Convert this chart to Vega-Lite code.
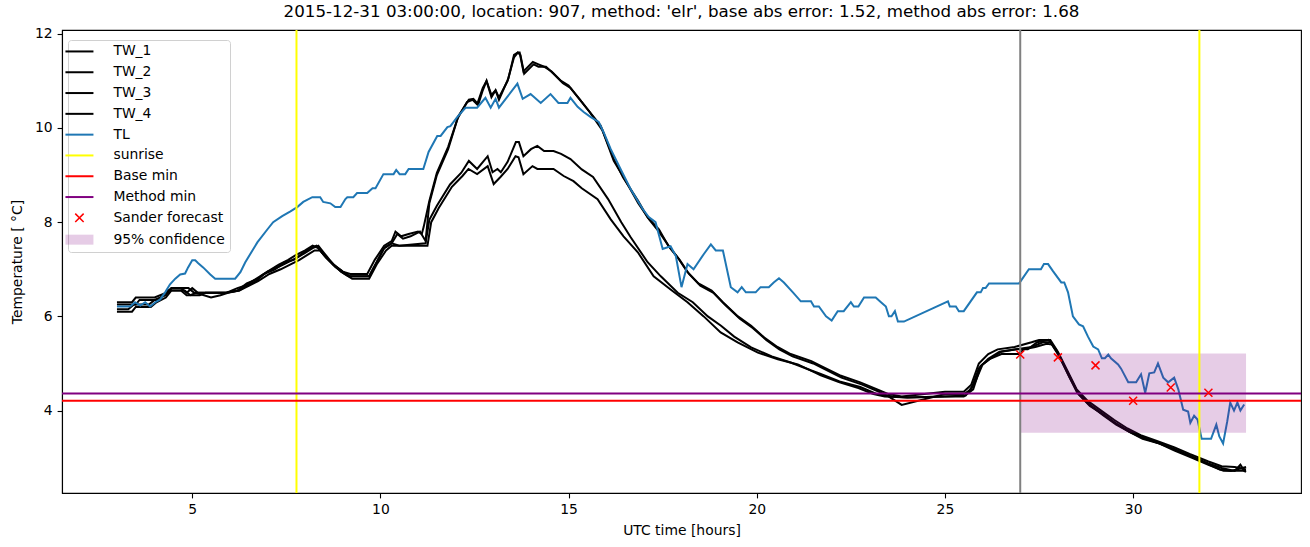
{
"$schema": "https://vega.github.io/schema/vega-lite/v6.json",
"width": 1239, "height": 463,
"autosize": {"type": "none"},
"padding": {"left": 62, "top": 30, "right": 9, "bottom": 54},
"config": {
  "font": "DejaVu Sans",
  "view": {"stroke": "#000000", "strokeWidth": 1.1},
  "axis": {"grid": false, "domainColor": "#000000", "domainWidth": 1.1, "tickColor": "#000000", "tickWidth": 1.1, "tickSize": 4.9, "labelPadding": 4.9, "labelFontSize": 13.9, "labelColor": "#000000", "titleFontSize": 13.9, "titleFontWeight": "normal", "titleColor": "#000000", "labelFont": "DejaVu Sans", "titleFont": "DejaVu Sans"},
  "legend": {"symbolType": "stroke"}
},
"title": {"text": "2015-12-31 03:00:00, location: 907, method: 'elr', base abs error: 1.52, method abs error: 1.68", "fontSize": 16.7, "fontWeight": "normal", "font": "DejaVu Sans", "color": "#000000", "offset": 6, "anchor": "middle"},
"datasets": {
  "lines": [
{"s":"TW_1","h":3.0,"t":6.3},{"s":"TW_1","h":3.4,"t":6.3},{"s":"TW_1","h":3.5,"t":6.4},{"s":"TW_1","h":4.0,"t":6.4},{"s":"TW_1","h":4.3,"t":6.5},{"s":"TW_1","h":4.45,"t":6.6},{"s":"TW_1","h":4.7,"t":6.6},{"s":"TW_1","h":4.85,"t":6.5},{"s":"TW_1","h":5.0,"t":6.6},{"s":"TW_1","h":5.15,"t":6.5},{"s":"TW_1","h":5.9,"t":6.5},{"s":"TW_1","h":6.2,"t":6.6},{"s":"TW_1","h":6.4,"t":6.65},{"s":"TW_1","h":6.6,"t":6.75},{"s":"TW_1","h":6.8,"t":6.85},{"s":"TW_1","h":7.0,"t":6.95},{"s":"TW_1","h":7.3,"t":7.1},{"s":"TW_1","h":7.55,"t":7.2},{"s":"TW_1","h":7.75,"t":7.3},{"s":"TW_1","h":8.0,"t":7.4},{"s":"TW_1","h":8.2,"t":7.5},{"s":"TW_1","h":8.35,"t":7.45},{"s":"TW_1","h":8.5,"t":7.3},{"s":"TW_1","h":8.75,"t":7.1},{"s":"TW_1","h":9.0,"t":6.95},{"s":"TW_1","h":9.2,"t":6.9},{"s":"TW_1","h":9.65,"t":6.9},{"s":"TW_1","h":9.85,"t":7.2},{"s":"TW_1","h":10.1,"t":7.5},{"s":"TW_1","h":10.3,"t":7.6},{"s":"TW_1","h":10.4,"t":7.8},{"s":"TW_1","h":10.55,"t":7.7},{"s":"TW_1","h":10.75,"t":7.75},{"s":"TW_1","h":11.0,"t":7.8},{"s":"TW_1","h":11.1,"t":7.75},{"s":"TW_1","h":11.15,"t":7.9},{"s":"TW_1","h":11.3,"t":8.45},{"s":"TW_1","h":11.5,"t":9.05},{"s":"TW_1","h":11.8,"t":9.6},{"s":"TW_1","h":12.05,"t":10.2},{"s":"TW_1","h":12.3,"t":10.55},{"s":"TW_1","h":12.45,"t":10.6},{"s":"TW_1","h":12.57,"t":10.5},{"s":"TW_1","h":12.72,"t":10.85},{"s":"TW_1","h":12.82,"t":11.0},{"s":"TW_1","h":12.95,"t":10.7},{"s":"TW_1","h":13.06,"t":10.8},{"s":"TW_1","h":13.15,"t":10.65},{"s":"TW_1","h":13.38,"t":11.0},{"s":"TW_1","h":13.55,"t":11.5},{"s":"TW_1","h":13.65,"t":11.6},{"s":"TW_1","h":13.7,"t":11.6},{"s":"TW_1","h":13.8,"t":11.2},{"s":"TW_1","h":14.05,"t":11.4},{"s":"TW_1","h":14.2,"t":11.35},{"s":"TW_1","h":14.35,"t":11.3},{"s":"TW_1","h":14.55,"t":11.2},{"s":"TW_1","h":14.8,"t":11.0},{"s":"TW_1","h":15.0,"t":10.9},{"s":"TW_1","h":15.3,"t":10.6},{"s":"TW_1","h":15.5,"t":10.4},{"s":"TW_1","h":15.85,"t":10.05},{"s":"TW_1","h":16.2,"t":9.35},{"s":"TW_1","h":16.45,"t":8.95},{"s":"TW_1","h":16.85,"t":8.45},{"s":"TW_1","h":17.1,"t":8.1},{"s":"TW_1","h":17.4,"t":7.85},{"s":"TW_1","h":17.65,"t":7.5},{"s":"TW_1","h":17.9,"t":7.25},{"s":"TW_1","h":18.15,"t":6.95},{"s":"TW_1","h":18.45,"t":6.7},{"s":"TW_1","h":18.8,"t":6.55},{"s":"TW_1","h":19.1,"t":6.3},{"s":"TW_1","h":19.5,"t":6.0},{"s":"TW_1","h":19.85,"t":5.8},{"s":"TW_1","h":20.2,"t":5.55},{"s":"TW_1","h":20.55,"t":5.35},{"s":"TW_1","h":20.9,"t":5.2},{"s":"TW_1","h":21.45,"t":5.05},{"s":"TW_1","h":21.7,"t":4.95},{"s":"TW_1","h":22.2,"t":4.75},{"s":"TW_1","h":22.75,"t":4.6},{"s":"TW_1","h":23.2,"t":4.45},{"s":"TW_1","h":23.5,"t":4.35},{"s":"TW_1","h":23.85,"t":4.3},{"s":"TW_1","h":25.0,"t":4.4},{"s":"TW_1","h":25.5,"t":4.4},{"s":"TW_1","h":25.7,"t":4.55},{"s":"TW_1","h":25.9,"t":5.0},{"s":"TW_1","h":26.15,"t":5.2},{"s":"TW_1","h":26.4,"t":5.3},{"s":"TW_1","h":26.85,"t":5.35},{"s":"TW_1","h":27.3,"t":5.45},{"s":"TW_1","h":27.5,"t":5.5},{"s":"TW_1","h":27.8,"t":5.5},{"s":"TW_1","h":28.0,"t":5.25},{"s":"TW_1","h":28.25,"t":4.85},{"s":"TW_1","h":28.5,"t":4.45},{"s":"TW_1","h":28.8,"t":4.2},{"s":"TW_1","h":29.15,"t":4.0},{"s":"TW_1","h":29.5,"t":3.8},{"s":"TW_1","h":29.85,"t":3.62},{"s":"TW_1","h":30.2,"t":3.48},{"s":"TW_1","h":30.65,"t":3.35},{"s":"TW_1","h":31.1,"t":3.22},{"s":"TW_1","h":31.5,"t":3.08},{"s":"TW_1","h":32.0,"t":2.92},{"s":"TW_1","h":32.35,"t":2.82},{"s":"TW_1","h":32.7,"t":2.8},{"s":"TW_1","h":33.0,"t":2.75},
{"s":"TW_2","h":3.0,"t":6.25},{"s":"TW_2","h":3.5,"t":6.25},{"s":"TW_2","h":3.6,"t":6.35},{"s":"TW_2","h":4.1,"t":6.35},{"s":"TW_2","h":4.35,"t":6.55},{"s":"TW_2","h":4.7,"t":6.55},{"s":"TW_2","h":4.85,"t":6.45},{"s":"TW_2","h":5.2,"t":6.45},{"s":"TW_2","h":5.35,"t":6.5},{"s":"TW_2","h":5.9,"t":6.5},{"s":"TW_2","h":6.25,"t":6.55},{"s":"TW_2","h":6.45,"t":6.65},{"s":"TW_2","h":6.7,"t":6.75},{"s":"TW_2","h":6.9,"t":6.9},{"s":"TW_2","h":7.2,"t":7.0},{"s":"TW_2","h":7.45,"t":7.15},{"s":"TW_2","h":7.7,"t":7.2},{"s":"TW_2","h":7.95,"t":7.35},{"s":"TW_2","h":8.15,"t":7.45},{"s":"TW_2","h":8.3,"t":7.5},{"s":"TW_2","h":8.45,"t":7.35},{"s":"TW_2","h":8.7,"t":7.15},{"s":"TW_2","h":8.95,"t":6.95},{"s":"TW_2","h":9.15,"t":6.85},{"s":"TW_2","h":9.7,"t":6.85},{"s":"TW_2","h":9.9,"t":7.15},{"s":"TW_2","h":10.1,"t":7.45},{"s":"TW_2","h":10.3,"t":7.55},{"s":"TW_2","h":10.45,"t":7.75},{"s":"TW_2","h":10.6,"t":7.65},{"s":"TW_2","h":10.8,"t":7.7},{"s":"TW_2","h":11.05,"t":7.8},{"s":"TW_2","h":11.2,"t":7.6},{"s":"TW_2","h":11.3,"t":8.4},{"s":"TW_2","h":11.5,"t":9.0},{"s":"TW_2","h":11.8,"t":9.55},{"s":"TW_2","h":12.07,"t":10.25},{"s":"TW_2","h":12.35,"t":10.6},{"s":"TW_2","h":12.47,"t":10.62},{"s":"TW_2","h":12.6,"t":10.5},{"s":"TW_2","h":12.72,"t":10.8},{"s":"TW_2","h":12.82,"t":11.0},{"s":"TW_2","h":12.95,"t":10.65},{"s":"TW_2","h":13.06,"t":10.8},{"s":"TW_2","h":13.15,"t":10.6},{"s":"TW_2","h":13.4,"t":11.05},{"s":"TW_2","h":13.55,"t":11.55},{"s":"TW_2","h":13.65,"t":11.6},{"s":"TW_2","h":13.72,"t":11.55},{"s":"TW_2","h":13.82,"t":11.15},{"s":"TW_2","h":14.07,"t":11.35},{"s":"TW_2","h":14.2,"t":11.3},{"s":"TW_2","h":14.4,"t":11.3},{"s":"TW_2","h":14.6,"t":11.15},{"s":"TW_2","h":14.85,"t":10.95},{"s":"TW_2","h":15.05,"t":10.85},{"s":"TW_2","h":15.3,"t":10.6},{"s":"TW_2","h":15.55,"t":10.35},{"s":"TW_2","h":15.9,"t":9.95},{"s":"TW_2","h":16.2,"t":9.3},{"s":"TW_2","h":16.5,"t":8.9},{"s":"TW_2","h":16.85,"t":8.4},{"s":"TW_2","h":17.15,"t":8.05},{"s":"TW_2","h":17.4,"t":7.8},{"s":"TW_2","h":17.7,"t":7.45},{"s":"TW_2","h":17.95,"t":7.2},{"s":"TW_2","h":18.2,"t":6.9},{"s":"TW_2","h":18.5,"t":6.65},{"s":"TW_2","h":18.85,"t":6.5},{"s":"TW_2","h":19.15,"t":6.25},{"s":"TW_2","h":19.55,"t":5.95},{"s":"TW_2","h":19.9,"t":5.75},{"s":"TW_2","h":20.25,"t":5.5},{"s":"TW_2","h":20.6,"t":5.3},{"s":"TW_2","h":20.95,"t":5.15},{"s":"TW_2","h":21.5,"t":5.0},{"s":"TW_2","h":21.75,"t":4.9},{"s":"TW_2","h":22.25,"t":4.7},{"s":"TW_2","h":22.8,"t":4.55},{"s":"TW_2","h":23.25,"t":4.4},{"s":"TW_2","h":23.5,"t":4.3},{"s":"TW_2","h":23.85,"t":4.12},{"s":"TW_2","h":25.0,"t":4.35},{"s":"TW_2","h":25.5,"t":4.35},{"s":"TW_2","h":25.7,"t":4.45},{"s":"TW_2","h":25.9,"t":4.9},{"s":"TW_2","h":26.15,"t":5.1},{"s":"TW_2","h":26.45,"t":5.25},{"s":"TW_2","h":26.9,"t":5.3},{"s":"TW_2","h":27.2,"t":5.3},{"s":"TW_2","h":27.45,"t":5.45},{"s":"TW_2","h":27.75,"t":5.5},{"s":"TW_2","h":27.95,"t":5.3},{"s":"TW_2","h":28.25,"t":4.8},{"s":"TW_2","h":28.5,"t":4.4},{"s":"TW_2","h":28.8,"t":4.15},{"s":"TW_2","h":29.15,"t":3.95},{"s":"TW_2","h":29.5,"t":3.75},{"s":"TW_2","h":29.85,"t":3.58},{"s":"TW_2","h":30.2,"t":3.45},{"s":"TW_2","h":30.65,"t":3.32},{"s":"TW_2","h":31.1,"t":3.18},{"s":"TW_2","h":31.5,"t":3.05},{"s":"TW_2","h":32.0,"t":2.88},{"s":"TW_2","h":32.35,"t":2.78},{"s":"TW_2","h":32.7,"t":2.72},{"s":"TW_2","h":32.85,"t":2.85},{"s":"TW_2","h":32.95,"t":2.72},{"s":"TW_2","h":33.0,"t":2.7},
{"s":"TW_3","h":3.0,"t":6.15},{"s":"TW_3","h":3.3,"t":6.15},{"s":"TW_3","h":3.45,"t":6.25},{"s":"TW_3","h":3.85,"t":6.25},{"s":"TW_3","h":4.0,"t":6.35},{"s":"TW_3","h":4.3,"t":6.45},{"s":"TW_3","h":4.45,"t":6.6},{"s":"TW_3","h":4.9,"t":6.6},{"s":"TW_3","h":5.05,"t":6.5},{"s":"TW_3","h":5.9,"t":6.5},{"s":"TW_3","h":6.2,"t":6.55},{"s":"TW_3","h":6.45,"t":6.7},{"s":"TW_3","h":6.75,"t":6.8},{"s":"TW_3","h":7.0,"t":6.95},{"s":"TW_3","h":7.3,"t":7.05},{"s":"TW_3","h":7.55,"t":7.15},{"s":"TW_3","h":7.8,"t":7.25},{"s":"TW_3","h":8.0,"t":7.35},{"s":"TW_3","h":8.2,"t":7.45},{"s":"TW_3","h":8.35,"t":7.5},{"s":"TW_3","h":8.5,"t":7.35},{"s":"TW_3","h":8.75,"t":7.1},{"s":"TW_3","h":9.0,"t":6.95},{"s":"TW_3","h":9.2,"t":6.85},{"s":"TW_3","h":9.7,"t":6.85},{"s":"TW_3","h":9.9,"t":7.15},{"s":"TW_3","h":10.1,"t":7.45},{"s":"TW_3","h":10.3,"t":7.55},{"s":"TW_3","h":10.5,"t":7.5},{"s":"TW_3","h":11.2,"t":7.55},{"s":"TW_3","h":11.3,"t":8.05},{"s":"TW_3","h":11.5,"t":8.35},{"s":"TW_3","h":11.85,"t":8.8},{"s":"TW_3","h":12.15,"t":9.05},{"s":"TW_3","h":12.35,"t":9.3},{"s":"TW_3","h":12.57,"t":9.13},{"s":"TW_3","h":12.85,"t":9.4},{"s":"TW_3","h":12.98,"t":9.06},{"s":"TW_3","h":13.11,"t":9.13},{"s":"TW_3","h":13.2,"t":9.06},{"s":"TW_3","h":13.38,"t":9.28},{"s":"TW_3","h":13.6,"t":9.7},{"s":"TW_3","h":13.68,"t":9.7},{"s":"TW_3","h":13.8,"t":9.4},{"s":"TW_3","h":14.0,"t":9.55},{"s":"TW_3","h":14.17,"t":9.62},{"s":"TW_3","h":14.35,"t":9.51},{"s":"TW_3","h":14.6,"t":9.51},{"s":"TW_3","h":14.8,"t":9.45},{"s":"TW_3","h":15.05,"t":9.34},{"s":"TW_3","h":15.35,"t":9.12},{"s":"TW_3","h":15.65,"t":8.96},{"s":"TW_3","h":16.05,"t":8.49},{"s":"TW_3","h":16.4,"t":8.0},{"s":"TW_3","h":16.65,"t":7.68},{"s":"TW_3","h":17.1,"t":7.15},{"s":"TW_3","h":17.45,"t":6.85},{"s":"TW_3","h":17.9,"t":6.5},{"s":"TW_3","h":18.3,"t":6.3},{"s":"TW_3","h":18.7,"t":6.0},{"s":"TW_3","h":19.05,"t":5.8},{"s":"TW_3","h":19.4,"t":5.57},{"s":"TW_3","h":19.85,"t":5.34},{"s":"TW_3","h":20.4,"t":5.15},{"s":"TW_3","h":20.9,"t":5.02},{"s":"TW_3","h":21.45,"t":4.85},{"s":"TW_3","h":21.7,"t":4.78},{"s":"TW_3","h":22.2,"t":4.62},{"s":"TW_3","h":22.75,"t":4.5},{"s":"TW_3","h":23.2,"t":4.35},{"s":"TW_3","h":23.6,"t":4.3},{"s":"TW_3","h":24.0,"t":4.28},{"s":"TW_3","h":25.0,"t":4.3},{"s":"TW_3","h":25.5,"t":4.3},{"s":"TW_3","h":25.75,"t":4.45},{"s":"TW_3","h":25.95,"t":4.95},{"s":"TW_3","h":26.2,"t":5.1},{"s":"TW_3","h":26.5,"t":5.25},{"s":"TW_3","h":26.9,"t":5.3},{"s":"TW_3","h":27.3,"t":5.35},{"s":"TW_3","h":27.6,"t":5.45},{"s":"TW_3","h":27.8,"t":5.45},{"s":"TW_3","h":28.0,"t":5.2},{"s":"TW_3","h":28.3,"t":4.75},{"s":"TW_3","h":28.55,"t":4.35},{"s":"TW_3","h":28.85,"t":4.1},{"s":"TW_3","h":29.2,"t":3.92},{"s":"TW_3","h":29.55,"t":3.72},{"s":"TW_3","h":29.9,"t":3.55},{"s":"TW_3","h":30.25,"t":3.42},{"s":"TW_3","h":30.7,"t":3.3},{"s":"TW_3","h":31.1,"t":3.15},{"s":"TW_3","h":31.55,"t":3.0},{"s":"TW_3","h":32.0,"t":2.85},{"s":"TW_3","h":32.4,"t":2.72},{"s":"TW_3","h":33.0,"t":2.72},
{"s":"TW_4","h":3.0,"t":6.1},{"s":"TW_4","h":3.4,"t":6.1},{"s":"TW_4","h":3.5,"t":6.2},{"s":"TW_4","h":3.9,"t":6.2},{"s":"TW_4","h":4.05,"t":6.3},{"s":"TW_4","h":4.3,"t":6.4},{"s":"TW_4","h":4.45,"t":6.55},{"s":"TW_4","h":4.8,"t":6.55},{"s":"TW_4","h":4.95,"t":6.45},{"s":"TW_4","h":5.1,"t":6.5},{"s":"TW_4","h":5.5,"t":6.4},{"s":"TW_4","h":5.75,"t":6.45},{"s":"TW_4","h":5.95,"t":6.5},{"s":"TW_4","h":6.25,"t":6.55},{"s":"TW_4","h":6.5,"t":6.65},{"s":"TW_4","h":6.75,"t":6.75},{"s":"TW_4","h":7.05,"t":6.9},{"s":"TW_4","h":7.35,"t":7.0},{"s":"TW_4","h":7.6,"t":7.1},{"s":"TW_4","h":7.85,"t":7.2},{"s":"TW_4","h":8.05,"t":7.3},{"s":"TW_4","h":8.25,"t":7.4},{"s":"TW_4","h":8.4,"t":7.4},{"s":"TW_4","h":8.55,"t":7.25},{"s":"TW_4","h":8.8,"t":7.05},{"s":"TW_4","h":9.05,"t":6.9},{"s":"TW_4","h":9.25,"t":6.8},{"s":"TW_4","h":9.7,"t":6.8},{"s":"TW_4","h":9.9,"t":7.1},{"s":"TW_4","h":10.15,"t":7.4},{"s":"TW_4","h":10.3,"t":7.5},{"s":"TW_4","h":11.25,"t":7.5},{"s":"TW_4","h":11.35,"t":8.0},{"s":"TW_4","h":11.55,"t":8.3},{"s":"TW_4","h":11.9,"t":8.75},{"s":"TW_4","h":12.18,"t":8.98},{"s":"TW_4","h":12.34,"t":9.13},{"s":"TW_4","h":12.57,"t":9.02},{"s":"TW_4","h":12.85,"t":9.19},{"s":"TW_4","h":13.01,"t":8.81},{"s":"TW_4","h":13.19,"t":8.96},{"s":"TW_4","h":13.38,"t":9.13},{"s":"TW_4","h":13.59,"t":9.4},{"s":"TW_4","h":13.67,"t":9.38},{"s":"TW_4","h":13.8,"t":9.02},{"s":"TW_4","h":14.04,"t":9.19},{"s":"TW_4","h":14.17,"t":9.13},{"s":"TW_4","h":14.6,"t":9.13},{"s":"TW_4","h":14.87,"t":8.98},{"s":"TW_4","h":15.13,"t":8.87},{"s":"TW_4","h":15.35,"t":8.72},{"s":"TW_4","h":15.77,"t":8.49},{"s":"TW_4","h":16.12,"t":8.06},{"s":"TW_4","h":16.46,"t":7.7},{"s":"TW_4","h":16.84,"t":7.36},{"s":"TW_4","h":17.26,"t":6.85},{"s":"TW_4","h":17.71,"t":6.57},{"s":"TW_4","h":18.16,"t":6.3},{"s":"TW_4","h":18.59,"t":6.0},{"s":"TW_4","h":19.04,"t":5.66},{"s":"TW_4","h":19.49,"t":5.45},{"s":"TW_4","h":20.03,"t":5.23},{"s":"TW_4","h":20.56,"t":5.09},{"s":"TW_4","h":21.09,"t":4.98},{"s":"TW_4","h":21.44,"t":4.85},{"s":"TW_4","h":21.7,"t":4.75},{"s":"TW_4","h":22.2,"t":4.6},{"s":"TW_4","h":22.7,"t":4.48},{"s":"TW_4","h":23.1,"t":4.35},{"s":"TW_4","h":23.4,"t":4.3},{"s":"TW_4","h":24.0,"t":4.28},{"s":"TW_4","h":25.0,"t":4.3},{"s":"TW_4","h":25.55,"t":4.32},{"s":"TW_4","h":25.8,"t":4.6},{"s":"TW_4","h":26.0,"t":4.98},{"s":"TW_4","h":26.2,"t":5.1},{"s":"TW_4","h":26.5,"t":5.2},{"s":"TW_4","h":26.95,"t":5.2},{"s":"TW_4","h":27.1,"t":5.3},{"s":"TW_4","h":27.4,"t":5.35},{"s":"TW_4","h":27.7,"t":5.42},{"s":"TW_4","h":27.85,"t":5.4},{"s":"TW_4","h":28.05,"t":5.15},{"s":"TW_4","h":28.3,"t":4.72},{"s":"TW_4","h":28.55,"t":4.35},{"s":"TW_4","h":28.85,"t":4.12},{"s":"TW_4","h":29.2,"t":3.9},{"s":"TW_4","h":29.55,"t":3.7},{"s":"TW_4","h":29.9,"t":3.55},{"s":"TW_4","h":30.25,"t":3.4},{"s":"TW_4","h":30.7,"t":3.3},{"s":"TW_4","h":31.1,"t":3.18},{"s":"TW_4","h":31.55,"t":3.02},{"s":"TW_4","h":31.95,"t":2.88},{"s":"TW_4","h":32.3,"t":2.75},{"s":"TW_4","h":32.6,"t":2.72},{"s":"TW_4","h":33.0,"t":2.8},
{"s":"TL","h":3.0,"t":6.21},{"s":"TL","h":3.35,"t":6.21},{"s":"TL","h":3.48,"t":6.3},{"s":"TL","h":3.62,"t":6.23},{"s":"TL","h":3.75,"t":6.3},{"s":"TL","h":3.88,"t":6.21},{"s":"TL","h":4.02,"t":6.3},{"s":"TL","h":4.15,"t":6.36},{"s":"TL","h":4.28,"t":6.51},{"s":"TL","h":4.41,"t":6.68},{"s":"TL","h":4.55,"t":6.8},{"s":"TL","h":4.68,"t":6.89},{"s":"TL","h":4.81,"t":6.91},{"s":"TL","h":4.89,"t":7.04},{"s":"TL","h":5.0,"t":7.19},{"s":"TL","h":5.08,"t":7.19},{"s":"TL","h":5.16,"t":7.13},{"s":"TL","h":5.29,"t":7.04},{"s":"TL","h":5.48,"t":6.89},{"s":"TL","h":5.61,"t":6.8},{"s":"TL","h":6.14,"t":6.8},{"s":"TL","h":6.28,"t":6.94},{"s":"TL","h":6.41,"t":7.15},{"s":"TL","h":6.73,"t":7.57},{"s":"TL","h":7.0,"t":7.85},{"s":"TL","h":7.15,"t":8.0},{"s":"TL","h":7.39,"t":8.13},{"s":"TL","h":7.61,"t":8.23},{"s":"TL","h":7.79,"t":8.32},{"s":"TL","h":7.95,"t":8.43},{"s":"TL","h":8.19,"t":8.53},{"s":"TL","h":8.4,"t":8.53},{"s":"TL","h":8.48,"t":8.43},{"s":"TL","h":8.67,"t":8.4},{"s":"TL","h":8.8,"t":8.32},{"s":"TL","h":8.94,"t":8.32},{"s":"TL","h":9.07,"t":8.49},{"s":"TL","h":9.12,"t":8.53},{"s":"TL","h":9.28,"t":8.53},{"s":"TL","h":9.38,"t":8.62},{"s":"TL","h":9.65,"t":8.62},{"s":"TL","h":9.79,"t":8.72},{"s":"TL","h":9.87,"t":8.72},{"s":"TL","h":10.08,"t":9.02},{"s":"TL","h":10.35,"t":9.02},{"s":"TL","h":10.42,"t":9.11},{"s":"TL","h":10.51,"t":9.02},{"s":"TL","h":10.66,"t":9.02},{"s":"TL","h":10.75,"t":9.13},{"s":"TL","h":11.14,"t":9.13},{"s":"TL","h":11.28,"t":9.49},{"s":"TL","h":11.51,"t":9.83},{"s":"TL","h":11.6,"t":9.83},{"s":"TL","h":11.78,"t":10.02},{"s":"TL","h":11.86,"t":10.04},{"s":"TL","h":12.04,"t":10.23},{"s":"TL","h":12.26,"t":10.43},{"s":"TL","h":12.57,"t":10.43},{"s":"TL","h":12.79,"t":10.64},{"s":"TL","h":12.93,"t":10.43},{"s":"TL","h":13.06,"t":10.62},{"s":"TL","h":13.15,"t":10.43},{"s":"TL","h":13.64,"t":10.94},{"s":"TL","h":13.78,"t":10.62},{"s":"TL","h":13.99,"t":10.72},{"s":"TL","h":14.26,"t":10.53},{"s":"TL","h":14.52,"t":10.72},{"s":"TL","h":14.73,"t":10.53},{"s":"TL","h":14.97,"t":10.53},{"s":"TL","h":15.05,"t":10.64},{"s":"TL","h":15.24,"t":10.45},{"s":"TL","h":15.4,"t":10.34},{"s":"TL","h":15.59,"t":10.23},{"s":"TL","h":15.8,"t":10.13},{"s":"TL","h":15.93,"t":9.91},{"s":"TL","h":16.12,"t":9.55},{"s":"TL","h":16.38,"t":9.13},{"s":"TL","h":16.65,"t":8.7},{"s":"TL","h":16.97,"t":8.28},{"s":"TL","h":17.13,"t":8.11},{"s":"TL","h":17.31,"t":8.0},{"s":"TL","h":17.5,"t":7.43},{"s":"TL","h":17.71,"t":7.49},{"s":"TL","h":17.85,"t":7.28},{"s":"TL","h":18.0,"t":6.62},{"s":"TL","h":18.16,"t":7.11},{"s":"TL","h":18.32,"t":7.0},{"s":"TL","h":18.59,"t":7.32},{"s":"TL","h":18.78,"t":7.53},{"s":"TL","h":18.91,"t":7.4},{"s":"TL","h":19.1,"t":7.4},{"s":"TL","h":19.31,"t":6.62},{"s":"TL","h":19.49,"t":6.51},{"s":"TL","h":19.6,"t":6.62},{"s":"TL","h":19.71,"t":6.51},{"s":"TL","h":19.97,"t":6.51},{"s":"TL","h":20.1,"t":6.62},{"s":"TL","h":20.32,"t":6.62},{"s":"TL","h":20.45,"t":6.72},{"s":"TL","h":20.59,"t":6.81},{"s":"TL","h":20.72,"t":6.72},{"s":"TL","h":20.96,"t":6.51},{"s":"TL","h":21.17,"t":6.32},{"s":"TL","h":21.44,"t":6.32},{"s":"TL","h":21.52,"t":6.21},{"s":"TL","h":21.65,"t":6.21},{"s":"TL","h":21.84,"t":6.0},{"s":"TL","h":21.99,"t":5.91},{"s":"TL","h":22.15,"t":6.11},{"s":"TL","h":22.31,"t":6.11},{"s":"TL","h":22.5,"t":6.3},{"s":"TL","h":22.58,"t":6.21},{"s":"TL","h":22.7,"t":6.21},{"s":"TL","h":22.85,"t":6.4},{"s":"TL","h":23.16,"t":6.4},{"s":"TL","h":23.3,"t":6.3},{"s":"TL","h":23.43,"t":6.21},{"s":"TL","h":23.51,"t":6.0},{"s":"TL","h":23.58,"t":6.0},{"s":"TL","h":23.67,"t":6.11},{"s":"TL","h":23.75,"t":5.89},{"s":"TL","h":23.91,"t":5.89},{"s":"TL","h":25.08,"t":6.32},{"s":"TL","h":25.13,"t":6.21},{"s":"TL","h":25.29,"t":6.21},{"s":"TL","h":25.37,"t":6.11},{"s":"TL","h":25.5,"t":6.11},{"s":"TL","h":25.85,"t":6.51},{"s":"TL","h":25.95,"t":6.51},{"s":"TL","h":26.01,"t":6.6},{"s":"TL","h":26.08,"t":6.6},{"s":"TL","h":26.17,"t":6.7},{"s":"TL","h":26.97,"t":6.7},{"s":"TL","h":27.23,"t":7.0},{"s":"TL","h":27.55,"t":7.0},{"s":"TL","h":27.63,"t":7.11},{"s":"TL","h":27.74,"t":7.11},{"s":"TL","h":27.87,"t":6.96},{"s":"TL","h":28.09,"t":6.72},{"s":"TL","h":28.17,"t":6.72},{"s":"TL","h":28.27,"t":6.51},{"s":"TL","h":28.4,"t":6.0},{"s":"TL","h":28.56,"t":5.83},{"s":"TL","h":28.67,"t":5.79},{"s":"TL","h":28.8,"t":5.57},{"s":"TL","h":28.94,"t":5.36},{"s":"TL","h":29.07,"t":5.3},{"s":"TL","h":29.17,"t":5.11},{"s":"TL","h":29.25,"t":5.11},{"s":"TL","h":29.34,"t":5.19},{"s":"TL","h":29.41,"t":5.11},{"s":"TL","h":29.6,"t":4.98},{"s":"TL","h":29.68,"t":4.89},{"s":"TL","h":29.87,"t":4.6},{"s":"TL","h":30.08,"t":4.6},{"s":"TL","h":30.21,"t":4.77},{"s":"TL","h":30.32,"t":4.38},{"s":"TL","h":30.43,"t":4.79},{"s":"TL","h":30.56,"t":4.81},{"s":"TL","h":30.66,"t":5.0},{"s":"TL","h":30.8,"t":4.7},{"s":"TL","h":30.93,"t":4.6},{"s":"TL","h":31.09,"t":4.7},{"s":"TL","h":31.2,"t":4.45},{"s":"TL","h":31.33,"t":4.02},{"s":"TL","h":31.46,"t":3.98},{"s":"TL","h":31.52,"t":3.74},{"s":"TL","h":31.62,"t":3.89},{"s":"TL","h":31.71,"t":3.81},{"s":"TL","h":31.82,"t":3.4},{"s":"TL","h":32.07,"t":3.4},{"s":"TL","h":32.21,"t":3.7},{"s":"TL","h":32.29,"t":3.45},{"s":"TL","h":32.39,"t":3.3},{"s":"TL","h":32.5,"t":3.77},{"s":"TL","h":32.58,"t":4.17},{"s":"TL","h":32.68,"t":4.0},{"s":"TL","h":32.77,"t":4.17},{"s":"TL","h":32.85,"t":4.0},{"s":"TL","h":32.95,"t":4.13}
  ],
  "vrules": [{"s":"sunrise","h":7.77},{"s":"sunrise","h":31.76}],
  "now": [{"h":27.0}],
  "hrules": [{"s":"Base min","t":4.21},{"s":"Method min","t":4.36}],
  "forecast": [{"s":"Sander forecast","h":27,"t":5.19},{"s":"Sander forecast","h":28,"t":5.13},{"s":"Sander forecast","h":29,"t":4.96},{"s":"Sander forecast","h":30,"t":4.21},{"s":"Sander forecast","h":31,"t":4.49},{"s":"Sander forecast","h":32,"t":4.38}],
  "band": [{"s":"95% confidence","h0":27.0,"h1":33.0,"t0":3.53,"t1":5.21}]
},
"layer": [
  {
    "data": {"name": "lines"},
    "mark": {"type": "line", "strokeWidth": 2},
    "encoding": {
      "x": {"field": "h", "type": "quantitative", "scale": {"domain": [1.54, 34.46], "nice": false, "zero": false}, "axis": {"values": [5,10,15,20,25,30], "title": "UTC time [hours]", "titlePadding": 7}},
      "y": {"field": "t", "type": "quantitative", "scale": {"domain": [2.25, 12.08], "nice": false, "zero": false}, "axis": {"values": [4,6,8,10,12], "title": "Temperature [ °C]", "titlePadding": 10}},
      "color": {"field": "s", "type": "nominal",
        "scale": {"domain": ["TW_1","TW_2","TW_3","TW_4","TL","sunrise","Base min","Method min","Sander forecast","95% confidence"], "range": ["#000000","#000000","#000000","#000000","#1f77b4","#ffff00","#ff0000","#800080","#ff0000","#800080"]},
        "legend": {"title": null, "orient": "none", "legendX": 6, "legendY": 10, "padding": 4.5, "rowPadding": 5.8, "labelOffset": 27, "labelFontSize": 13.9, "labelFont": "DejaVu Sans", "labelColor": "#000000", "strokeColor": "#d0d0d0", "fillColor": "rgba(255,255,255,0.8)", "cornerRadius": 3, "symbolSize": 100, "symbolType": "stroke",
          "encode": {"symbols": {"update": {
            "shape": {"signal": "datum.value === 'Sander forecast' ? 'M-0.84,-0.84L0.84,0.84M-0.84,0.84L0.84,-0.84' : datum.value === '95% confidence' ? 'M-2.8,-1L2.8,-1L2.8,1L-2.8,1Z' : 'M-2.8,0L2.8,0'"},
            "fill": {"signal": "datum.value === '95% confidence' ? '#800080' : 'transparent'"},
            "fillOpacity": {"signal": "datum.value === '95% confidence' ? 0.2 : 0"},
            "stroke": {"signal": "datum.value === '95% confidence' ? 'transparent' : datum.value === 'TL' ? '#1f77b4' : datum.value === 'sunrise' ? '#ffff00' : datum.value === 'Base min' ? '#ff0000' : datum.value === 'Method min' ? '#800080' : datum.value === 'Sander forecast' ? '#ff0000' : '#000000'"},
            "strokeOpacity": {"signal": "datum.value === '95% confidence' ? 0 : 1"},
            "strokeWidth": {"signal": "datum.value === 'Sander forecast' ? 1.5 : 2"},
            "opacity": {"value": 1}
          }}}
        }
      }
    }
  },
  {
    "data": {"name": "band"},
    "mark": {"type": "rect", "opacity": 0.2},
    "encoding": {
      "x": {"field": "h0", "type": "quantitative"},
      "x2": {"field": "h1"},
      "y": {"field": "t0", "type": "quantitative"},
      "y2": {"field": "t1"},
      "color": {"field": "s", "type": "nominal"}
    }
  },
  {
    "data": {"name": "vrules"},
    "mark": {"type": "rule", "strokeWidth": 2},
    "encoding": {
      "x": {"field": "h", "type": "quantitative"},
      "color": {"field": "s", "type": "nominal"}
    }
  },
  {
    "data": {"name": "now"},
    "mark": {"type": "rule", "strokeWidth": 2, "color": "#808080"},
    "encoding": {
      "x": {"field": "h", "type": "quantitative"}
    }
  },
  {
    "data": {"name": "hrules"},
    "mark": {"type": "rule", "strokeWidth": 2},
    "encoding": {
      "y": {"field": "t", "type": "quantitative"},
      "color": {"field": "s", "type": "nominal"}
    }
  },
  {
    "data": {"name": "forecast"},
    "mark": {"type": "point", "shape": "M-1,-1L1,1M-1,1L1,-1", "size": 64, "strokeWidth": 1.5, "filled": false, "opacity": 1},
    "encoding": {
      "x": {"field": "h", "type": "quantitative"},
      "y": {"field": "t", "type": "quantitative"},
      "color": {"field": "s", "type": "nominal"}
    }
  }
]
}
